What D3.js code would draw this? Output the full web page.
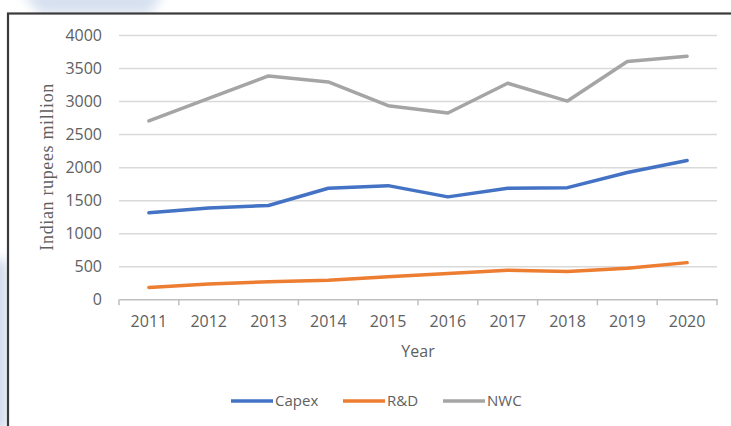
<!DOCTYPE html>
<html>
<head>
<meta charset="utf-8">
<script src="https://cdn.jsdelivr.net/npm/d3@7"></script>
<style>
  html, body { margin: 0; padding: 0; background: #ffffff; }
  svg { display: block; }
</style>
</head>
<body>
<svg id="chart" width="731" height="426"></svg>
<script>
// Yearly figures, Indian rupees million
const years = ["2011", "2012", "2013", "2014", "2015", "2016", "2017", "2018", "2019", "2020"];
const capex = [1310, 1380, 1420, 1680, 1720, 1550, 1680, 1690, 1920, 2100];
const rnd   = [180, 230, 267, 290, 340, 390, 440, 420, 470, 555];
const nwc   = [2700, 3040, 3380, 3290, 2930, 2820, 3270, 3000, 3600, 3680];
const yTicks = [0, 500, 1000, 1500, 2000, 2500, 3000, 3500, 4000];
const seriesNames = ["Capex", "R&D", "NWC"];
const seriesColors = ["#4472C4", "#ED7D31", "#A5A5A5"];

const series = [capex, rnd, nwc].map((vals, i) => ({
  name: seriesNames[i],
  color: seriesColors[i],
  values: vals.map((v, j) => ({ year: years[j], value: v }))
}));

const svg = d3.select("#chart");
const font = "'Open Sans', 'Liberation Sans', sans-serif";
const textGrey = "#606060";

// soft backdrop shapes behind the chart frame
const defs = svg.append("defs");
defs.append("filter").attr("id", "soft")
  .attr("x", "-50%").attr("y", "-50%").attr("width", "200%").attr("height", "200%")
  .append("feGaussianBlur").attr("stdDeviation", 6);
const backdrop = svg.append("g").attr("filter", "url(#soft)");
backdrop.append("path")
  .attr("d", "M20,-10 L165,-10 L150,14 L40,14 Z")
  .attr("fill", "#d6e0f0");
backdrop.append("path")
  .attr("d", "M-10,260 L7,260 L7,430 L-10,430 Z")
  .attr("fill", "#cdd8ea");

// chart frame (top and left edges visible)
svg.append("rect")
  .attr("x", 8).attr("y", 13.5)
  .attr("width", 740).attr("height", 430)
  .attr("fill", "#ffffff")
  .attr("stroke", "#3a3a3a")
  .attr("stroke-width", 2.2);

const plot = { left: 119, right: 717, top: 35, bottom: 299.3 };

const x = d3.scaleBand().domain(years).range([plot.left, plot.right]);
const y = d3.scaleLinear().domain([0, 4000]).range([plot.bottom, plot.top]);

// horizontal gridlines and value labels
const yAxis = svg.append("g")
  .attr("transform", `translate(${plot.left},0)`)
  .call(d3.axisLeft(y).tickValues(yTicks).tickFormat(d3.format("d"))
    .tickSize(-(plot.right - plot.left)).tickPadding(17));
yAxis.select(".domain").remove();
yAxis.selectAll(".tick line")
  .attr("stroke", "#d9d9d9").attr("stroke-width", 1.5);
yAxis.selectAll(".tick text")
  .attr("fill", textGrey).style("font-family", font).style("font-size", "16px");
yAxis.selectAll(".tick").filter(d => d === 0).select("line").remove();

// category axis
const xAxis = svg.append("g")
  .attr("transform", `translate(0,${plot.bottom})`)
  .call(d3.axisBottom(x).tickSize(0).tickPadding(16));
xAxis.select(".domain").attr("stroke", "#bfbfbf").attr("stroke-width", 1.5);
xAxis.selectAll(".tick text")
  .attr("fill", textGrey).style("font-family", font).style("font-size", "16px");
// tick marks sit on the category boundaries
const boundaries = years.map(d => x(d)).concat([x.range()[1]]);
xAxis.selectAll(".boundary")
  .data(boundaries)
  .join("line")
  .attr("class", "boundary")
  .attr("x1", d => d).attr("x2", d => d)
  .attr("y1", 0).attr("y2", 6)
  .attr("stroke", "#bfbfbf").attr("stroke-width", 1.5);

// series lines
const line = d3.line()
  .x(d => x(d.year) + x.bandwidth() / 2)
  .y(d => y(d.value));
svg.append("g").selectAll("path")
  .data(series.slice().reverse())
  .join("path")
  .attr("d", d => line(d.values))
  .attr("fill", "none")
  .attr("stroke", d => d.color)
  .attr("stroke-width", 3.5)
  .attr("stroke-linejoin", "round")
  .attr("stroke-linecap", "round");

// axis titles
svg.append("text")
  .attr("x", (plot.left + plot.right) / 2)
  .attr("y", 357)
  .attr("text-anchor", "middle")
  .attr("fill", textGrey)
  .style("font-family", font)
  .style("font-size", "16px")
  .text("Year");

svg.append("text")
  .attr("transform", `translate(53,${(plot.top + plot.bottom) / 2}) rotate(-90)`)
  .attr("text-anchor", "middle")
  .attr("fill", textGrey)
  .attr("textLength", 167)
  .attr("lengthAdjust", "spacing")
  .style("font-family", "'Liberation Serif', 'DejaVu Serif', serif")
  .style("font-size", "18px")
  .text("Indian rupees million");

// legend
const legendX = [231, 343, 443];
const legend = svg.append("g").selectAll("g")
  .data(series)
  .join("g")
  .attr("transform", (d, i) => `translate(${legendX[i]},401)`);
legend.append("line")
  .attr("x1", 0).attr("x2", 42)
  .attr("stroke", d => d.color)
  .attr("stroke-width", 3.5);
legend.append("text")
  .attr("x", 44)
  .attr("dy", "0.36em")
  .attr("fill", textGrey)
  .style("font-family", font)
  .style("font-size", "15px")
  .text(d => d.name);
</script>
</body>
</html>
